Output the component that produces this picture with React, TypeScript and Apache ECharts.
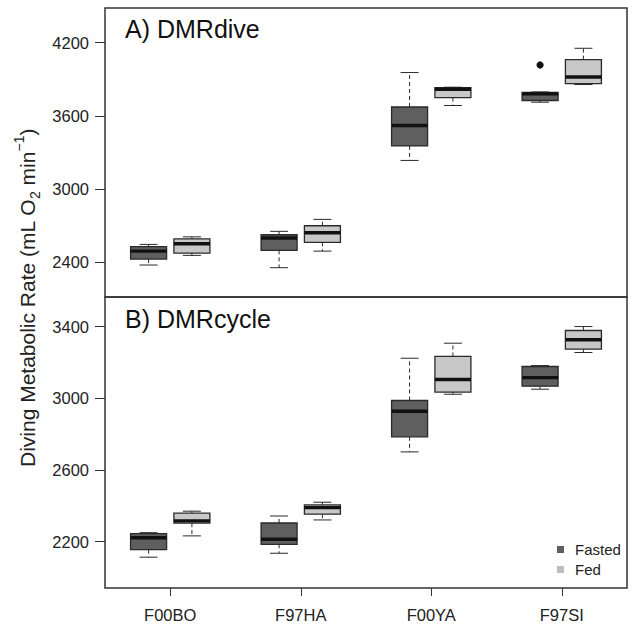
import { useEffect, useRef } from 'react';
import * as echarts from 'echarts';

const categories = ['F00BO', 'F97HA', 'F00YA', 'F97SI'];

// box stats: [min, Q1, median, Q3, max]
const diveFasted = [
  [2378, 2427, 2492, 2528, 2547],
  [2356, 2498, 2599, 2626, 2654],
  [3235, 3354, 3521, 3673, 3955],
  [3712, 3726, 3780, 3793, 3796],
];
const diveFed = [
  [2457, 2476, 2552, 2593, 2609],
  [2492, 2564, 2642, 2700, 2752],
  [3685, 3750, 3818, 3832, 3835],
  [3857, 3865, 3919, 4061, 4154],
];
// outliers: [category index, value]
const diveFastedOutliers = [[3, 4017]];

const cycleFasted = [
  [2113, 2155, 2222, 2245, 2250],
  [2135, 2185, 2213, 2304, 2343],
  [2701, 2785, 2928, 2988, 3224],
  [3051, 3068, 3116, 3178, 3183],
];
const cycleFed = [
  [2232, 2303, 2316, 2359, 2370],
  [2321, 2353, 2390, 2405, 2420],
  [3023, 3035, 3105, 3234, 3308],
  [3256, 3275, 3327, 3379, 3401],
];

const diveTicks = [2400, 3000, 3600, 4200];
const cycleTicks = [2200, 2600, 3000, 3400];
const diveRange = [2116, 4484];
const cycleRange = [1941, 3566];

const FONT = '"Liberation Sans", Arial, Helvetica, sans-serif';
const FASTED_FILL = '#5f5f5f';
const FED_FILL = '#c8c8c8';
const EDGE = '#2a2a2a';

const BOX_OFFSET = 0.166; // fraction of band width
const BOX_WIDTH = 0.276; // fraction of band width

function boxRender(offsetSign: number, fill: string) {
  return (params: any, api: any) => {
    const xi = api.value(0);
    const band = api.size([1, 0])[0];
    const cx = api.coord([xi, api.value(3)])[0] + offsetSign * BOX_OFFSET * band;
    const yy = (i: number) => api.coord([xi, api.value(i)])[1];
    const yMin = yy(1);
    const yQ1 = yy(2);
    const yMed = yy(3);
    const yQ3 = yy(4);
    const yMax = yy(5);
    const bw = band * BOX_WIDTH;
    const cap = bw / 2;
    const dash = { stroke: EDGE, lineWidth: 1, lineDash: [4, 3] };
    const solid = { stroke: EDGE, lineWidth: 1 };
    return {
      type: 'group',
      children: [
        { type: 'line', shape: { x1: cx, y1: yQ3, x2: cx, y2: yMax }, style: dash },
        { type: 'line', shape: { x1: cx, y1: yQ1, x2: cx, y2: yMin }, style: dash },
        { type: 'line', shape: { x1: cx - cap / 2, y1: yMax, x2: cx + cap / 2, y2: yMax }, style: solid },
        { type: 'line', shape: { x1: cx - cap / 2, y1: yMin, x2: cx + cap / 2, y2: yMin }, style: solid },
        {
          type: 'rect',
          shape: { x: cx - bw / 2, y: yQ3, width: bw, height: yQ1 - yQ3 },
          style: { fill, stroke: EDGE, lineWidth: 1.3 },
        },
        {
          type: 'line',
          shape: { x1: cx - bw / 2, y1: yMed, x2: cx + bw / 2, y2: yMed },
          style: { stroke: '#111', lineWidth: 3.4 },
        },
      ],
    };
  };
}

function outlierRender(offsetSign: number) {
  return (params: any, api: any) => {
    const xi = api.value(0);
    const band = api.size([1, 0])[0];
    const p = api.coord([xi, api.value(1)]);
    return {
      type: 'circle',
      shape: { cx: p[0] + offsetSign * BOX_OFFSET * band, cy: p[1], r: 3.6 },
      style: { fill: '#111' },
    };
  };
}

const toData = (arr: number[][]) => arr.map((v, i) => [i, ...v]);

export default function App() {
  const ref = useRef<HTMLDivElement>(null);
  useEffect(() => {
    if (!ref.current) return;
    const chart = echarts.init(ref.current, undefined, { renderer: 'svg' });

    const yAxisCommon = (ticks: number[], range: number[], gridIndex: number) => ({
      type: 'value',
      gridIndex,
      min: range[0],
      max: range[1],
      splitLine: { show: false },
      axisLine: { show: false },
      axisTick: {
        show: true,
        inside: false,
        length: 10,
        customValues: ticks,
        lineStyle: { color: '#333', width: 1 },
      },
      axisLabel: {
        customValues: ticks,
        formatter: (v: number) => String(v),
        fontSize: 16.5,
        color: '#222',
        fontFamily: FONT,
        margin: 16,
      },
    });

    const boxSeries = (name: string, data: number[][], xi: number, sign: number, fill: string) => ({
      type: 'custom',
      name,
      xAxisIndex: xi,
      yAxisIndex: xi,
      data: toData(data),
      encode: { x: 0, y: [1, 2, 3, 4, 5] },
      itemStyle: { color: fill },
      renderItem: boxRender(sign, fill),
      clip: false,
    });

    const option: any = {
      animation: false,
      backgroundColor: '#fff',
      textStyle: { fontFamily: FONT },
      grid: [
        { left: 105, top: 8, width: 522, height: 289, show: true, borderColor: '#333', borderWidth: 1.5, backgroundColor: 'transparent' },
        { left: 105, top: 297, width: 522, height: 291, show: true, borderColor: '#333', borderWidth: 1.5, backgroundColor: 'transparent' },
      ],
      xAxis: [
        {
          type: 'category',
          gridIndex: 0,
          data: categories,
          boundaryGap: true,
          axisLine: { show: false },
          axisTick: { show: false },
          axisLabel: { show: false },
          splitLine: { show: false },
        },
        {
          type: 'category',
          gridIndex: 1,
          data: categories,
          boundaryGap: true,
          axisLine: { show: false },
          axisTick: { show: true, alignWithLabel: true, length: 8, lineStyle: { color: '#333' } },
          axisLabel: { fontSize: 16.5, color: '#222', fontFamily: FONT, margin: 18 },
          splitLine: { show: false },
        },
      ],
      yAxis: [yAxisCommon(diveTicks, diveRange, 0), yAxisCommon(cycleTicks, cycleRange, 1)],
      legend: {
        orient: 'vertical',
        left: 557,
        top: 542,
        padding: 0,
        itemGap: 5,
        itemWidth: 7,
        itemHeight: 7,
        icon: 'rect',
        textStyle: { fontSize: 15, color: '#222', fontFamily: FONT, padding: [0, 0, 0, 6] },
        data: [
          { name: 'Fasted', itemStyle: { color: FASTED_FILL } },
          { name: 'Fed', itemStyle: { color: '#bdbdbd' } },
        ],
      },
      series: [
        boxSeries('Fasted', diveFasted, 0, -1, FASTED_FILL),
        boxSeries('Fed', diveFed, 0, 1, FED_FILL),
        {
          type: 'custom',
          name: 'Fasted',
          xAxisIndex: 0,
          yAxisIndex: 0,
          data: diveFastedOutliers,
          encode: { x: 0, y: 1 },
          itemStyle: { color: FASTED_FILL },
          renderItem: outlierRender(-1),
          clip: false,
        },
        boxSeries('Fasted', cycleFasted, 1, -1, FASTED_FILL),
        boxSeries('Fed', cycleFed, 1, 1, FED_FILL),
      ],
      graphic: [
        {
          type: 'text',
          x: 125,
          y: 29,
          style: { text: 'A) DMRdive', fontSize: 25, fontFamily: FONT, fill: '#111', textVerticalAlign: 'middle' },
        },
        {
          type: 'text',
          x: 125,
          y: 319,
          style: { text: 'B) DMRcycle', fontSize: 25, fontFamily: FONT, fill: '#111', textVerticalAlign: 'middle' },
        },
        {
          type: 'text',
          x: 27,
          y: 298,
          rotation: Math.PI / 2,
          style: {
            text: '{a|Diving Metabolic Rate (mL O}{s|2}{a| min}{p|\u22121}{a|)}',
            textAlign: 'center',
            textVerticalAlign: 'middle',
            fill: '#222',
            rich: {
              a: { fontSize: 21, fontFamily: FONT, fill: '#222', lineHeight: 30, verticalAlign: 'middle' },
              s: { fontSize: 14, fontFamily: FONT, fill: '#222', lineHeight: 30, verticalAlign: 'bottom' },
              p: { fontSize: 14, fontFamily: FONT, fill: '#222', lineHeight: 30, verticalAlign: 'top' },
            },
          },
        },
      ],
    };
    chart.setOption(option);
    return () => chart.dispose();
  }, []);
  return <div ref={ref} style={{ width: 633, height: 629, position: 'absolute', left: 0, top: 0 }} />;
}
